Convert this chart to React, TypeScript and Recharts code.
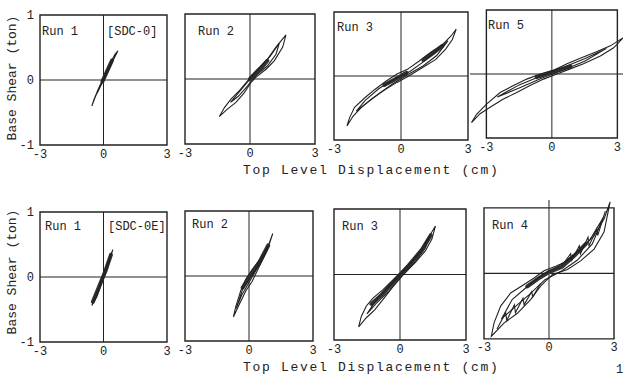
import { ComposedChart, Scatter, XAxis, YAxis, ReferenceArea, ReferenceLine } from "recharts";

type Pt = { x: number; y: number };

// [SDC-0] hysteresis loops (x: cm, y: ton)
const sdc0Run1Outer = [[-0.55, -0.4], [-0.4, -0.27], [-0.2, -0.12], [0.05, 0.04], [0.3, 0.2], [0.5, 0.33], [0.68, 0.45], [0.55, 0.4], [0.35, 0.28], [0.15, 0.14], [-0.05, 0.0], [-0.25, -0.14], [-0.45, -0.3], [-0.55, -0.4]];
const sdc0Run1Inner = [[-0.3, -0.2], [-0.1, -0.07], [0.1, 0.07], [0.3, 0.2], [0.15, 0.1], [-0.05, -0.03], [-0.3, -0.2]];
const sdc0Run1Core = [[-0.05, -0.02], [0.15, 0.12], [0.4, 0.3]];

const sdc0Run2Outer = [[1.66, 0.68], [1.2, 0.49], [0.82, 0.31], [0.35, 0.15], [0.05, 0.05], [-0.11, -0.03], [-0.49, -0.18], [-0.88, -0.31], [-1.18, -0.44], [-1.42, -0.58], [-1.03, -0.46], [-0.65, -0.36], [-0.26, -0.21], [0.05, -0.05], [0.28, 0.03], [0.74, 0.15], [1.12, 0.28], [1.51, 0.49], [1.66, 0.68]];
const sdc0Run2Inner = [[1.35, 0.55], [0.95, 0.36], [0.5, 0.19], [0.1, 0.04], [-0.4, -0.16], [-0.9, -0.36], [-0.55, -0.27], [-0.15, -0.12], [0.3, 0.06], [0.8, 0.2], [1.2, 0.38], [1.35, 0.55]];
const sdc0Run2Core = [[0.0, 0.0], [0.3, 0.1], [0.55, 0.18], [0.8, 0.28]];

const sdc0Run3Outer = [[2.47, 0.73], [2.24, 0.625], [1.86, 0.49], [1.41, 0.39], [0.8, 0.23], [0.27, 0.1], [-0.18, 0.03], [-0.71, -0.09], [-1.17, -0.21], [-1.62, -0.34], [-2.08, -0.49], [-2.3, -0.65], [-2.42, -0.78], [-2.15, -0.63], [-1.77, -0.49], [-1.32, -0.36], [-0.71, -0.21], [-0.18, -0.1], [0.35, 0], [0.95, 0.13], [1.56, 0.26], [2.0, 0.42], [2.3, 0.57], [2.47, 0.73]];
const sdc0Run3Inner = [[2.1, 0.55], [1.6, 0.4], [1.0, 0.22], [0.4, 0.07], [-0.3, -0.05], [-1.0, -0.2], [-1.6, -0.38], [-2.0, -0.55], [-1.6, -0.44], [-1.0, -0.28], [-0.4, -0.13], [0.3, 0.02], [1.0, 0.16], [1.6, 0.32], [2.1, 0.55]];
const sdc0Run3CoreA = [[-0.75, -0.14], [-0.3, -0.06], [0.25, 0.05]];
const sdc0Run3CoreB = [[1.0, 0.25], [1.45, 0.36], [1.85, 0.47]];

const sdc0Run5Outer = [[3.28, 0.57], [2.68, 0.44], [2.07, 0.35], [1.3, 0.245], [0.69, 0.16], [0.08, 0.06], [-0.54, 0], [-1.15, -0.08], [-1.76, -0.18], [-2.37, -0.29], [-2.99, -0.47], [-3.45, -0.63], [-3.68, -0.76], [-3.29, -0.62], [-2.83, -0.52], [-2.22, -0.39], [-1.61, -0.29], [-1.0, -0.18], [-0.38, -0.08], [0.23, 0], [0.84, 0.08], [1.45, 0.16], [2.22, 0.28], [2.83, 0.41], [3.28, 0.57]];
const sdc0Run5Inner = [[2.5, 0.4], [1.5, 0.24], [0.5, 0.1], [-0.5, -0.03], [-1.5, -0.17], [-2.5, -0.36], [-1.5, -0.22], [-0.5, -0.07], [0.5, 0.06], [1.5, 0.2], [2.5, 0.4]];
const sdc0Run5Core = [[-0.7, -0.05], [0, 0.03], [0.85, 0.12]];

// [SDC-0E]
const sdc0eRun1Outer = [[-0.55, -0.44], [-0.31, -0.3], [-0.08, -0.09], [0.16, 0.12], [0.44, 0.42], [0.23, 0.25], [0, 0.04], [-0.23, -0.17], [-0.47, -0.35], [-0.55, -0.44]];
const sdc0eRun1Core = [[-0.5, -0.38], [-0.15, -0.1], [0.1, 0.1], [0.35, 0.34]];

const sdc0eRun2Outer = [[1.11, 0.65], [0.93, 0.49], [0.54, 0.26], [0.15, 0.1], [-0.15, -0.05], [-0.39, -0.23], [-0.62, -0.47], [-0.73, -0.63], [-0.46, -0.44], [-0.15, -0.23], [0.15, -0.08], [0.46, 0.13], [0.85, 0.39], [1.11, 0.65]];
const sdc0eRun2Inner = [[0.9, 0.45], [0.5, 0.2], [0.1, 0.0], [-0.3, -0.2], [-0.6, -0.5], [-0.35, -0.3], [0.0, -0.1], [0.35, 0.1], [0.7, 0.3], [0.9, 0.45]];
const sdc0eRun2Core = [[-0.3, -0.18], [0.1, 0.03], [0.5, 0.22], [0.9, 0.47]];

const sdc0eRun3Outer = [[1.61, 0.74], [1.38, 0.61], [1.0, 0.38], [0.54, 0.2], [0.08, 0.05], [-0.31, -0.08], [-0.77, -0.23], [-1.23, -0.36], [-1.53, -0.48], [-1.76, -0.64], [-1.88, -0.8], [-1.53, -0.66], [-1.15, -0.54], [-0.77, -0.38], [-0.31, -0.18], [0.15, 0], [0.69, 0.18], [1.15, 0.36], [1.45, 0.54], [1.61, 0.74]];
const sdc0eRun3Inner = [[1.35, 0.6], [0.9, 0.34], [0.3, 0.1], [-0.4, -0.15], [-1.0, -0.35], [-1.5, -0.6], [-1.1, -0.45], [-0.5, -0.25], [0.1, -0.02], [0.7, 0.2], [1.15, 0.4], [1.35, 0.6]];
const sdc0eRun3Core = [[-1.3, -0.45], [-0.8, -0.3], [-0.2, -0.08], [0.4, 0.14], [1.0, 0.38], [1.4, 0.6]];

const sdc0eRun4Outer = [[2.82, 1.09], [2.54, 0.83], [2.08, 0.57], [1.46, 0.37], [0.85, 0.19], [0.31, 0.11], [-0.23, 0.04], [-0.69, -0.07], [-1.15, -0.17], [-1.77, -0.3], [-2.23, -0.5], [-2.54, -0.76], [-2.66, -0.96], [-2.08, -0.76], [-1.46, -0.61], [-0.85, -0.4], [-0.38, -0.19], [0.15, -0.02], [0.85, 0.06], [1.46, 0.19], [2.08, 0.37], [2.54, 0.63], [2.82, 1.09]];
const sdc0eRun4Inner = [[2.5, 0.85], [1.9, 0.52], [1.2, 0.3], [0.5, 0.12], [-0.3, -0.02], [-1.0, -0.2], [-1.7, -0.4], [-2.2, -0.7], [-1.6, -0.52], [-0.9, -0.32], [-0.2, -0.1], [0.6, 0.04], [1.3, 0.2], [2.0, 0.45], [2.5, 0.85]];
const sdc0eRun4JagLow = [[-2.4, -0.85], [-2.0, -0.6], [-1.95, -0.72], [-1.6, -0.48], [-1.55, -0.6], [-1.2, -0.38], [-1.15, -0.48], [-0.8, -0.28], [-0.75, -0.36], [-0.4, -0.16]];
const sdc0eRun4JagHigh = [[0.6, 0.12], [1.0, 0.3], [1.05, 0.2], [1.4, 0.42], [1.45, 0.3], [1.8, 0.55], [1.85, 0.42], [2.2, 0.68], [2.25, 0.58], [2.6, 0.95]];
const sdc0eRun4Core = [[-1.0, -0.2], [-0.5, -0.08], [0, 0.02], [0.6, 0.1], [1.2, 0.28], [1.7, 0.45]];

const xTicks = [-3, 0, 3];
const yTicks = [-1, 0, 1];

const FONT = '"Liberation Mono", "DejaVu Sans Mono", monospace';
const INK = "#222";

const toPts = (a: number[][]): Pt[] => a.map(([x, y]) => ({ x, y }));
const noDot = () => <g />;

type Box = { left: number; top: number; w: number; h: number };

function Panel({
  box,
  xDomain = [-3, 3],
  yDomain = [-1, 1],
  showY = false,
  loops,
  cores,
}: {
  box: Box;
  xDomain?: number[];
  yDomain?: number[];
  showY?: boolean;
  loops: number[][][];
  cores: number[][][];
}) {
  const kx = box.w / 6;
  const ky = box.h / 2;
  const padL = (-3 - xDomain[0]) * kx;
  const padR = (xDomain[1] - 3) * kx;
  const padT = (yDomain[1] - 1) * ky;
  const yW = showY ? 22 : 0;
  const xH = 24;
  const m = { top: 9, right: 12, bottom: 0, left: 12 };
  const width = m.left + yW + box.w + padL + padR + m.right;
  const height = m.top + box.h + padT + xH;
  const tick = { fontFamily: FONT, fontSize: 12, fill: INK };

  return (
    <div style={{ position: "absolute", left: box.left - padL - yW - m.left, top: box.top - padT - m.top }}>
      <ComposedChart width={width} height={height} margin={m}>
        <XAxis
          type="number"
          dataKey="x"
          domain={xDomain}
          ticks={xTicks}
          interval={0}
          axisLine={false}
          tickLine={false}
          tickSize={4}
          tickMargin={0}
          height={xH}
          tick={tick}
        />
        <YAxis
          type="number"
          dataKey="y"
          domain={yDomain}
          ticks={yTicks}
          interval={0}
          hide={!showY}
          width={yW}
          axisLine={false}
          tickLine={false}
          tickSize={0}
          tickMargin={6}
          tick={tick}
        />
        <ReferenceArea x1={-3} x2={3} y1={-1} y2={1} fill="none" stroke={INK} strokeWidth={1.4} ifOverflow="visible" />
        <ReferenceLine x={0} stroke={INK} strokeWidth={1} />
        <ReferenceLine y={0} stroke={INK} strokeWidth={1.1} />
        {cores.map((c, i) => (
          <Scatter
            key={"c" + i}
            data={toPts(c)}
            line={{ stroke: "#333", strokeWidth: 4, strokeLinecap: "round" }}
            shape={noDot}
            isAnimationActive={false}
          />
        ))}
        {loops.map((l, i) => (
          <Scatter
            key={"l" + i}
            data={toPts(l)}
            line={{ stroke: INK, strokeWidth: 1.1 }}
            shape={noDot}
            isAnimationActive={false}
          />
        ))}
      </ComposedChart>
    </div>
  );
}

const txt = (left: number, top: number, s: string) => (
  <div style={{ position: "absolute", left, top, fontFamily: FONT, fontSize: 12, lineHeight: "12px", color: INK, whiteSpace: "pre" }}>
    {s}
  </div>
);

const title = (left: number, top: number) => (
  <div
    style={{
      position: "absolute",
      left,
      top,
      fontFamily: FONT,
      fontSize: 13,
      lineHeight: "13px",
      letterSpacing: "1.7px",
      color: INK,
      whiteSpace: "pre",
    }}
  >
    Top Level Displacement (cm)
  </div>
);

function YTitle({ cy }: { cy: number }) {
  return (
    <div
      style={{
        position: "absolute",
        left: 13 - 70,
        top: cy - 7,
        width: 140,
        height: 14,
        textAlign: "center",
        transform: "rotate(-90deg)",
        fontFamily: FONT,
        fontSize: 13,
        lineHeight: "14px",
        color: INK,
      }}
    >
      Base Shear (ton)
    </div>
  );
}

export default function App() {
  return (
    <div style={{ position: "absolute", left: 0, top: 0, width: 623, height: 378, background: "#fff", overflow: "hidden" }}>
      <Panel box={{ left: 40, top: 15, w: 127, h: 130 }} showY loops={[sdc0Run1Outer, sdc0Run1Inner]} cores={[sdc0Run1Core]} />
      <Panel box={{ left: 185, top: 14, w: 130, h: 130 }} loops={[sdc0Run2Outer, sdc0Run2Inner]} cores={[sdc0Run2Core]} />
      <Panel box={{ left: 334, top: 12, w: 134, h: 128 }} loops={[sdc0Run3Outer, sdc0Run3Inner]} cores={[sdc0Run3CoreA, sdc0Run3CoreB]} />
      <Panel box={{ left: 486, top: 10, w: 131, h: 128 }} xDomain={[-3.75, 3.35]} loops={[sdc0Run5Outer, sdc0Run5Inner]} cores={[sdc0Run5Core]} />

      <Panel box={{ left: 40, top: 212, w: 127, h: 130 }} showY loops={[sdc0eRun1Outer]} cores={[sdc0eRun1Core]} />
      <Panel box={{ left: 185, top: 211, w: 128, h: 130 }} loops={[sdc0eRun2Outer, sdc0eRun2Inner]} cores={[sdc0eRun2Core]} />
      <Panel box={{ left: 334, top: 209, w: 132, h: 131 }} loops={[sdc0eRun3Outer, sdc0eRun3Inner]} cores={[sdc0eRun3Core]} />
      <Panel box={{ left: 484, top: 208, w: 130, h: 131 }} yDomain={[-1, 1.12]} loops={[sdc0eRun4Outer, sdc0eRun4Inner, sdc0eRun4JagLow, sdc0eRun4JagHigh]} cores={[sdc0eRun4Core]} />

      {txt(42, 26, "Run 1")}
      {txt(107, 26, "[SDC-0]")}
      {txt(198, 26, "Run 2")}
      {txt(337, 22, "Run 3")}
      {txt(488, 20, "Run 5")}

      {txt(45, 221, "Run 1")}
      {txt(108, 221, "[SDC-0E]")}
      {txt(192, 219, "Run 2")}
      {txt(342, 221, "Run 3")}
      {txt(492, 220, "Run 4")}

      {title(243, 164)}
      {title(243, 361)}
      <YTitle cy={78} />
      <YTitle cy={272} />
      {txt(616, 364, "1")}
    </div>
  );
}
